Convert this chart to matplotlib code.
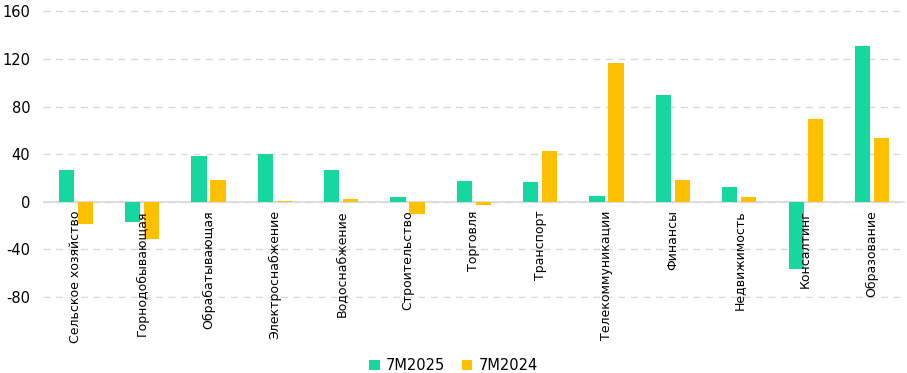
import matplotlib
matplotlib.use("Agg")
import matplotlib.pyplot as plt
import matplotlib.transforms as mtransforms
import numpy as np

plt.rcParams["font.family"] = "DejaVu Sans"
plt.rcParams["axes.unicode_minus"] = False

# ── Data ──────────────────────────────────────────────────────────────────────

CATEGORIES = [
    "Сельское хозяйство", "Горнодобывающая", "Обрабатывающая",
    "Электроснабжение", "Водоснабжение", "Строительство", "Торговля",
    "Транспорт", "Телекоммуникации", "Финансы", "Недвижимость",
    "Консалтинг", "Образование",
]

S2025 = [27, -17, 38.5, 40, 27, 4, 17.5, 16.5, 5, 89.5, 12.5, -56, 131]
S2024 = [-19, -31, 18.5, 1, 2, -10, -3, 42.5, 117, 18.5, 4, 70, 54]

YTICKS = [-80, -40, 0, 40, 80, 120, 160]

GREEN  = "#17D7A0"
YELLOW = "#FFC000"

# ── Plot ──────────────────────────────────────────────────────────────────────

fig = plt.figure(figsize=(9.07, 3.73), dpi=100)
ax = fig.add_axes([0.047, 0.2004, 0.951, 0.772])

x = np.arange(len(CATEGORIES))
w = 0.23
off = 0.143
ax.bar(x - off, S2025, w, color=GREEN, label="7M2025", zorder=3)
ax.bar(x + off, S2024, w, color=YELLOW, label="7M2024", zorder=3)

ax.set_xlim(-0.5, len(CATEGORIES) - 0.5)
ax.set_ylim(-81, 161)
ax.set_yticks(YTICKS)
ax.set_xticks([])
ax.tick_params(axis="y", length=0, labelsize=10.5, pad=9)
ax.yaxis.grid(True, color="#D9D9D9", linestyle=(0, (5, 4)), linewidth=1)
ax.axhline(0, color="#D9D9D9", linewidth=1.2, zorder=2)
for s in ax.spines.values():
    s.set_visible(False)

trans = mtransforms.offset_copy(ax.transData, fig=fig, x=0, y=-6, units="points")
for i, name in enumerate(CATEGORIES):
    ax.text(i, 0, name, rotation=90, ha="center", va="top", fontsize=9,
            transform=trans, zorder=4)

fig.legend(loc="lower center", ncol=2, frameon=False, fontsize=10.5,
           bbox_to_anchor=(0.5, -0.035), handlelength=0.7, handleheight=0.7,
           handletextpad=0.4, columnspacing=1.2)

plt.savefig("out.png", dpi=100)
